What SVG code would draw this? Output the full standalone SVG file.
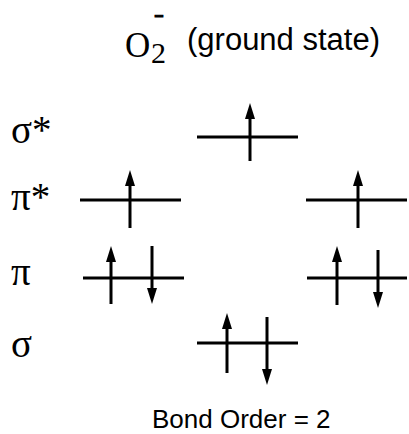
<svg xmlns="http://www.w3.org/2000/svg" width="409" height="434" viewBox="0 0 409 434">
<defs>
<style>
.lvl{stroke:#000;stroke-width:3;fill:none}
.spin{stroke:#000;stroke-width:3;fill:none;marker-end:url(#ah)}
.lab{font-family:"Liberation Serif","Times New Roman",serif;font-size:39px;fill:#000}
.sans{font-family:"Liberation Sans",Arial,sans-serif;fill:#000}
.serif{font-family:"Liberation Serif","Times New Roman",serif;fill:#000}
</style>
<marker id="ah" viewBox="0 0 16 10" markerWidth="16" markerHeight="10" refX="5" refY="5" orient="auto" markerUnits="userSpaceOnUse">
<path d="M0,0 L16,5 L0,10 z" fill="#000"/>
</marker>
</defs>
<rect width="409" height="434" fill="#fff"/>
<g id="title">
<text class="serif" x="125" y="57" font-size="35">O</text>
<text class="serif" x="151" y="63" font-size="30">2</text>
<text class="serif" x="154" y="21" font-size="22" font-weight="bold" stroke="#000" stroke-width="0.9" transform="translate(154 0) scale(1.35 1) translate(-154 0)">-</text>
<text class="sans" x="187" y="50" font-size="31">(ground state)</text>
</g>
<g id="labels">
<text class="lab" x="11" y="143">σ*</text>
<text class="lab" x="11" y="210">π*</text>
<text class="lab" x="11" y="285">π</text>
<text class="lab" x="11" y="357">σ</text>
</g>
<g id="sigma-star">
<line class="lvl" x1="197" y1="137" x2="298" y2="137"/>
<line class="spin" x1="250" y1="161" x2="250" y2="114"/>
</g>
<g id="pi-star-left">
<line class="lvl" x1="80" y1="200" x2="181" y2="200"/>
<line class="spin" x1="130" y1="228" x2="130" y2="181"/>
</g>
<g id="pi-star-right">
<line class="lvl" x1="306" y1="200" x2="407" y2="200"/>
<line class="spin" x1="358" y1="228" x2="358" y2="181"/>
</g>
<g id="pi-left">
<line class="lvl" x1="83" y1="278" x2="184" y2="278"/>
<line class="spin" x1="111" y1="304" x2="111" y2="257"/>
<line class="spin" x1="152" y1="246" x2="152" y2="293"/>
</g>
<g id="pi-right">
<line class="lvl" x1="307" y1="278" x2="407" y2="278"/>
<line class="spin" x1="337" y1="305" x2="337" y2="257"/>
<line class="spin" x1="378" y1="250" x2="378" y2="297"/>
</g>
<g id="sigma">
<line class="lvl" x1="197" y1="343" x2="298" y2="343"/>
<line class="spin" x1="227" y1="373" x2="227" y2="324"/>
<line class="spin" x1="267" y1="317" x2="267" y2="374"/>
</g>
<g id="connectors"/>
<g id="footer">
<text class="sans" x="152" y="428" font-size="26">Bond Order = 2</text>
</g>
</svg>
